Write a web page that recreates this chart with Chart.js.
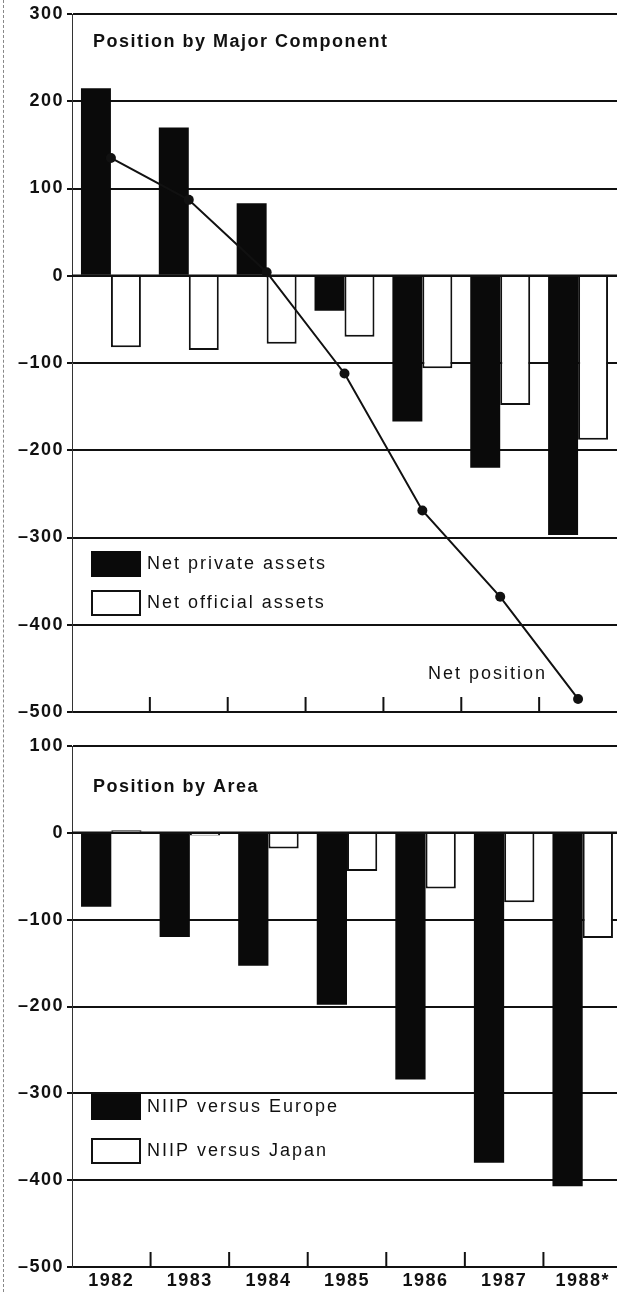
<!DOCTYPE html>
<html>
<head>
<meta charset="utf-8">
<script src="https://cdn.jsdelivr.net/npm/chart.js@4/dist/chart.umd.min.js"></script>
<style>
html, body { margin: 0; padding: 0; background: #fff; overflow: hidden; width: 617px; height: 1292px; }
#wrap { position: relative; width: 617px; height: 1292px; overflow: hidden; }
canvas { position: absolute; left: 0; }
#top { top: 0; }
#bottom { top: 730px; }
#edge { position: absolute; left: 3px; top: 0; height: 1292px; border-left: 1px dashed #888; }
</style>
</head>
<body>
<div id="wrap">
  <div id="edge"></div>
  <canvas id="top" width="622" height="730"></canvas>
  <canvas id="bottom" width="622" height="562"></canvas>
</div>
<script>
const years = ['1982', '1983', '1984', '1985', '1986', '1987', '1988*'];

// Position by Major Component, billions of dollars
const netPrivate = [215, 170, 83, -40, -167, -220, -297];
const netOfficial = [-82, -85, -78, -70, -106, -148, -188];
const netPosition = [135, 87, 4, -112, -269, -368, -485];

// Position by Area
const vsEurope = [-85, -120, -153, -198, -284, -380, -407];
const vsJapan = [3, -3, -18, -44, -64, -80, -121];

const topRange = [-500, 300];
const bottomRange = [-500, 100];

const FONT = '"Liberation Sans", Arial, Helvetica, sans-serif';
const INK = '#111';

Chart.defaults.font.family = FONT;
Chart.defaults.color = INK;
Chart.defaults.animation = false;

// titles, legend boxes, inner year ticks, zero line, line label
const deco = {
    id: 'deco',
    beforeDraw(chart) {
        chart.ctx.letterSpacing = '1.5px';
    },
    afterDatasetsDraw(chart) {
        const ctx = chart.ctx, area = chart.chartArea;
        const y0 = chart.scales.y.getPixelForValue(0);
        ctx.save();
        ctx.strokeStyle = INK;
        ctx.lineWidth = 2.5;
        ctx.beginPath();
        ctx.moveTo(area.left, y0);
        ctx.lineTo(area.right, y0);
        ctx.stroke();
        ctx.restore();
    },
    afterDraw(chart, args, opts) {
        const ctx = chart.ctx, area = chart.chartArea, x = chart.scales.x;
        ctx.save();
        ctx.strokeStyle = INK;
        ctx.lineWidth = 2;
        for (let i = 1; i < chart.data.labels.length; i++) {
            const px = (x.getPixelForValue(i - 1) + x.getPixelForValue(i)) / 2;
            ctx.beginPath();
            ctx.moveTo(px, area.bottom);
            ctx.lineTo(px, area.bottom - 15);
            ctx.stroke();
        }

        ctx.fillStyle = INK;
        ctx.textAlign = 'left';
        ctx.textBaseline = 'middle';
        ctx.font = 'bold 18px ' + FONT;
        ctx.letterSpacing = '1.5px';
        ctx.fillText(opts.title, area.left + 21, area.top + opts.titleY);

        ctx.font = '18px ' + FONT;
        ctx.letterSpacing = '2px';
        const bars = chart.data.datasets.filter(d => d.type === 'bar');
        bars.forEach((d, i) => {
            const cy = area.top + opts.legendY[i];
            const bx = area.left + 19;
            if (d.borderWidth) {
                ctx.fillStyle = '#fff';
                ctx.fillRect(bx, cy - 13, 50, 26);
                ctx.lineWidth = 2;
                ctx.strokeRect(bx + 1, cy - 12, 48, 24);
            } else {
                ctx.fillStyle = d.backgroundColor;
                ctx.fillRect(bx, cy - 13, 50, 26);
            }
            ctx.fillStyle = INK;
            ctx.fillText(d.label, area.left + 75, cy);
        });

        const lineIdx = chart.data.datasets.findIndex(d => d.type === 'line');
        if (lineIdx >= 0) {
            const pts = chart.getDatasetMeta(lineIdx).data;
            const last = pts[pts.length - 1];
            ctx.textAlign = 'right';
            ctx.fillText(chart.data.datasets[lineIdx].label, last.x - 31, last.y - 25);
        }
        ctx.restore();
    }
};

function blackBar(label, data) {
    return {
        type: 'bar', label: label, data: data,
        backgroundColor: '#0a0a0a', borderWidth: 0,
        categoryPercentage: 0.77, barPercentage: 1, order: 1
    };
}

function whiteBar(label, data) {
    return {
        type: 'bar', label: label, data: data,
        backgroundColor: '#fff', borderColor: INK, borderWidth: 2,
        categoryPercentage: 0.77, barPercentage: 1, order: 1
    };
}

function makeChart(id, datasets, range, padTop, axisH, showYears, deco_opts) {
    return new Chart(document.getElementById(id), {
        data: { labels: years, datasets: datasets },
        options: {
            responsive: false,
            layout: { padding: { top: padTop, left: 0, right: 0, bottom: 0 } },
            plugins: {
                legend: { display: false },
                tooltip: { enabled: false },
                deco: deco_opts
            },
            scales: {
                x: {
                    offset: true,
                    grid: { display: true, drawOnChartArea: false, drawTicks: false },
                    border: { display: true, color: INK, width: 2 },
                    ticks: { display: showYears, color: INK, padding: 3, font: { size: 18, weight: 'bold' } },
                    afterFit: s => { s.height = axisH; }
                },
                y: {
                    min: range[0],
                    max: range[1],
                    ticks: {
                        stepSize: 100, color: INK, padding: 3,
                        font: { size: 18, weight: 'bold' },
                        callback: v => v < 0 ? '\u2013' + (-v) : String(v)
                    },
                    grid: { color: INK, lineWidth: 2, tickLength: 5 },
                    border: { display: true, color: '#333', width: 1 },
                    afterFit: s => { s.width = 72; }
                }
            }
        },
        plugins: [deco]
    });
}

makeChart('top', [
    blackBar('Net private assets', netPrivate),
    whiteBar('Net official assets', netOfficial),
    {
        type: 'line', label: 'Net position', data: netPosition,
        borderColor: INK, borderWidth: 2, tension: 0,
        pointRadius: 5, pointBackgroundColor: INK, pointBorderWidth: 0, order: 0
    }
], topRange, 14, 18, false, { title: 'Position by Major Component', titleY: 28, legendY: [550, 589] });

makeChart('bottom', [
    blackBar('NIIP versus Europe', vsEurope),
    whiteBar('NIIP versus Japan', vsJapan)
], bottomRange, 16, 25, true, { title: 'Position by Area', titleY: 41, legendY: [361, 405] });
</script>
</body>
</html>
